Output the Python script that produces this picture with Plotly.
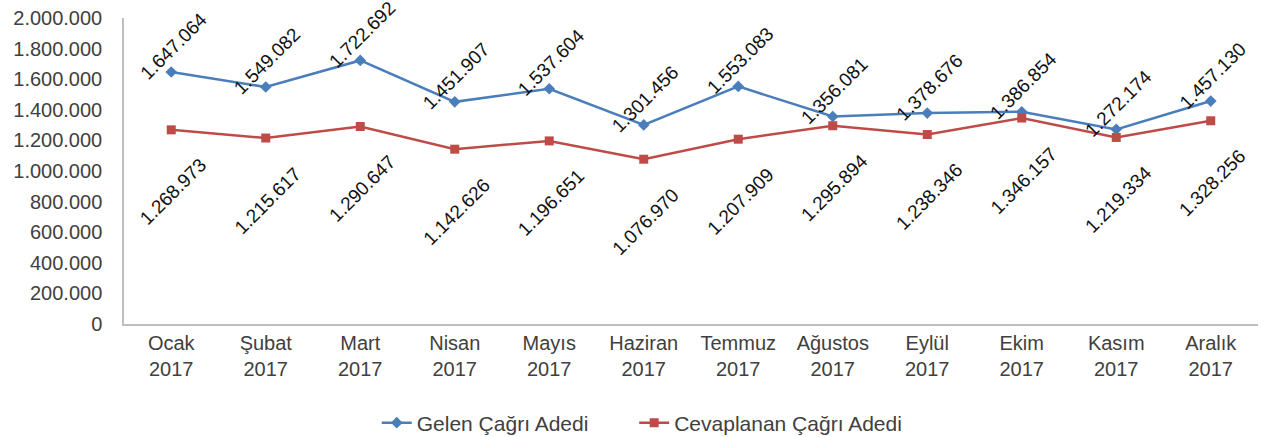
import plotly.graph_objects as go

months = ["Ocak", "Şubat", "Mart", "Nisan", "Mayıs", "Haziran", "Temmuz",
          "Ağustos", "Eylül", "Ekim", "Kasım", "Aralık"]
year = "2017"
categories = [f"{m}<br>{year}" for m in months]

gelen = [1647064, 1549082, 1722692, 1451907, 1537604, 1301456, 1553083,
         1356081, 1378676, 1386854, 1272174, 1457130]
cevaplanan = [1268973, 1215617, 1290647, 1142626, 1196651, 1076970, 1207909,
              1295894, 1238346, 1346157, 1219334, 1328256]

series_names = ["Gelen Çağrı Adedi", "Cevaplanan Çağrı Adedi"]
y_ticks = [0, 200000, 400000, 600000, 800000, 1000000, 1200000, 1400000,
           1600000, 1800000, 2000000]

BLUE = "#4A7EBB"
RED = "#BE4B48"
FONT = "Liberation Sans"
LEGEND_PAD = "&nbsp;" * 7  # extra gap between the two legend entries


def fmt(v):
    return f"{v:,}".replace(",", ".")


fig = go.Figure()
fig.add_trace(go.Scatter(x=categories, y=gelen, name=series_names[0] + LEGEND_PAD,
                         mode="lines+markers",
                         line=dict(color=BLUE, width=2.5),
                         marker=dict(symbol="diamond", size=9, color=BLUE)))
fig.add_trace(go.Scatter(x=categories, y=cevaplanan, name=series_names[1],
                         mode="lines+markers",
                         line=dict(color=RED, width=2.5),
                         marker=dict(symbol="square", size=9, color=RED)))

annotations = []
for c, v in zip(categories, gelen):
    annotations.append(dict(x=c, y=v, xref="x", yref="y", text=fmt(v),
                            showarrow=False, textangle=-45, yshift=26, xshift=2,
                            font=dict(family=FONT, size=19, color="#111111")))
for c, v in zip(categories, cevaplanan):
    annotations.append(dict(x=c, y=v, xref="x", yref="y", text=fmt(v),
                            showarrow=False, textangle=-45, yshift=-62, xshift=2,
                            font=dict(family=FONT, size=19, color="#111111")))

fig.update_layout(
    width=1265, height=437,
    margin=dict(l=124, r=7, t=18, b=113, autoexpand=False),
    plot_bgcolor="white", paper_bgcolor="white",
    separators=",.",
    font=dict(family=FONT, size=20, color="#404040"),
    showlegend=True,
    legend=dict(orientation="h", x=0.457, xanchor="center",
                y=-0.3235, yanchor="middle",
                font=dict(family=FONT, size=21, color="#404040")),
    annotations=annotations,
    xaxis=dict(range=[-0.5, len(categories) - 0.5],
               showgrid=False, showline=True, linecolor="#BFBFBF", linewidth=1.5,
               ticks="", automargin=False,
               tickfont=dict(family=FONT, size=20, color="#404040")),
    yaxis=dict(range=[0, 2000000], tickvals=y_ticks, tickformat=",d",
               showgrid=False, showline=True, linecolor="#BFBFBF", linewidth=1.5,
               ticks="", zeroline=False, automargin=False, ticklabelstandoff=16,
               tickfont=dict(family=FONT, size=20, color="#404040")),
)

fig.write_html("out.html",
               config={"displayModeBar": False},
               post_script="document.body.style.margin='0px';"
                           "document.body.style.overflow='hidden';")
